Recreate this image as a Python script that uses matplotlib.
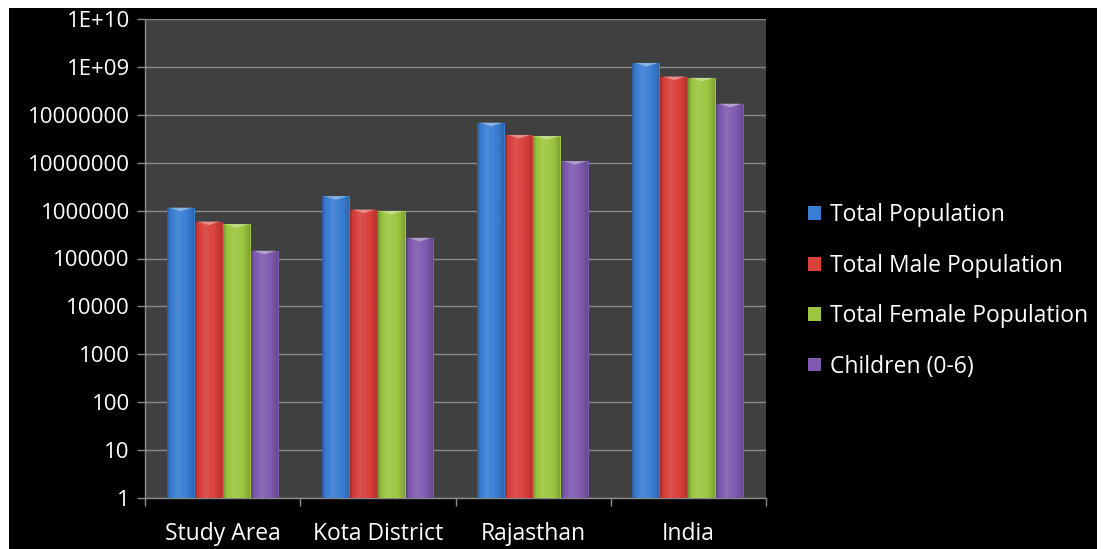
import numpy as np
import matplotlib
matplotlib.use("Agg")
import matplotlib.pyplot as plt
from matplotlib.patches import Rectangle, Patch
from matplotlib.path import Path
from matplotlib.colors import to_rgb
from matplotlib.ticker import FixedLocator, NullFormatter

# ---- data ----
categories = ["Study Area", "Kota District", "Rajasthan", "India"]
series_names = ["Total Population", "Total Male Population",
                "Total Female Population", "Children (0-6)"]
total_pop = [1.15e6, 2.0e6, 6.85e7, 1.21e9]
male_pop = [5.9e5, 1.05e6, 3.8e7, 6.3e8]
female_pop = [5.2e5, 9.8e5, 3.6e7, 5.9e8]
children = [1.45e5, 2.7e5, 1.08e7, 1.7e8]
ytick_values = [1, 10, 100, 1000, 10000, 100000, 1000000, 1e7, 1e8, 1e9, 1e10]
ytick_labels = ["1", "10", "100", "1000", "10000", "100000", "1000000",
                "10000000", "10000000", "1E+09", "1E+10"]

series = [total_pop, male_pop, female_pop, children]
colors = ["#3A7ED3", "#D9403B", "#9CC640", "#7F5BB0"]

FONT = "Open Sans"
plt.rcParams["font.family"] = [FONT, "DejaVu Sans"]

W, H = 1106, 549
fig = plt.figure(figsize=(W / 100, H / 100), dpi=100)
fig.patch.set_facecolor("white")
fig.add_artist(Rectangle((9 / W, 0), (1097 - 9) / W, (549 - 8) / H,
                         transform=fig.transFigure, facecolor="black",
                         edgecolor="none", zorder=-10))

ax = fig.add_axes([145 / W, 1 - 498 / H, (766 - 145) / W, (498 - 19) / H])
ax.set_facecolor("#404040")
ax.set_yscale("log")

x = np.arange(len(categories))
bw = 0.18
offsets = (np.arange(4) - 1.5) * bw

def shade(c, f):
    r = np.array(to_rgb(c))
    if f >= 0:
        return tuple(r + (1 - r) * f)
    return tuple(r * (1 + f))

chev = Path([(-1.0, 0.0), (1.0, 0.0), (0.0, -0.32), (-1.0, 0.0)],
            [Path.MOVETO, Path.LINETO, Path.LINETO, Path.CLOSEPOLY])

for i, (vals, col) in enumerate(zip(series, colors)):
    bars = ax.bar(x + offsets[i], vals, width=bw, bottom=1, color=col,
                  edgecolor="none", zorder=3, label=series_names[i])
    t = np.linspace(0, 1, 64)
    prof = np.interp(t, [0, 0.08, 0.35, 0.7, 0.92, 1.0],
                     [-0.25, -0.05, 0.10, 0.0, -0.15, -0.35])
    grad = np.array([shade(col, p) for p in prof])[None, :, :]
    for b in bars:
        x0 = b.get_x()
        x1 = x0 + b.get_width()
        top = b.get_y() + b.get_height()
        im = ax.imshow(grad, extent=[x0, x1, 1, top], aspect="auto",
                       interpolation="bilinear", zorder=4)
        im.set_clip_path(b)
    ax.scatter(x + offsets[i], vals, marker=chev, s=260,
               color=shade(col, 0.4), edgecolors="none", zorder=5)

ax.set_xlim(-0.5, len(categories) - 0.5)
ax.set_ylim(1, 1e10)

ax.yaxis.set_major_locator(FixedLocator(ytick_values))
ax.set_yticklabels(ytick_labels)
ax.yaxis.set_minor_locator(FixedLocator([]))
ax.yaxis.set_minor_formatter(NullFormatter())
ax.grid(axis="y", which="major", color="#8a8a8a", linewidth=1.0, zorder=1)
ax.set_axisbelow(True)

ax.set_xticks(x)
ax.set_xticklabels(categories)
ax.set_xticks(np.arange(len(categories) + 1) - 0.5, minor=True)
ax.tick_params(axis="x", which="major", length=0, pad=17, labelsize=16.5,
               labelcolor="white")
ax.tick_params(axis="x", which="minor", length=6, width=1, color="#8a8a8a",
               direction="out")
ax.tick_params(axis="y", which="major", length=6, width=1, color="#8a8a8a",
               direction="out", pad=5, labelsize=16, labelcolor="white")
for lbl in ax.get_xticklabels() + ax.get_yticklabels():
    lbl.set_fontweight("medium")

for s in ["top", "right"]:
    ax.spines[s].set_visible(False)
for s in ["left", "bottom"]:
    ax.spines[s].set_color("#8a8a8a")
    ax.spines[s].set_linewidth(1.0)

handles = [Patch(facecolor=c, edgecolor="none") for c in colors]
leg = fig.legend(handles, series_names, loc="upper left",
                 bbox_to_anchor=(797 / W, 1 - 192 / H), frameon=False,
                 fontsize=16.5, labelcolor="white", handlelength=0.55,
                 handleheight=0.55, handletextpad=0.4, labelspacing=1.15,
                 borderpad=0)

fig.savefig("out.png", dpi=100, facecolor=fig.get_facecolor())
